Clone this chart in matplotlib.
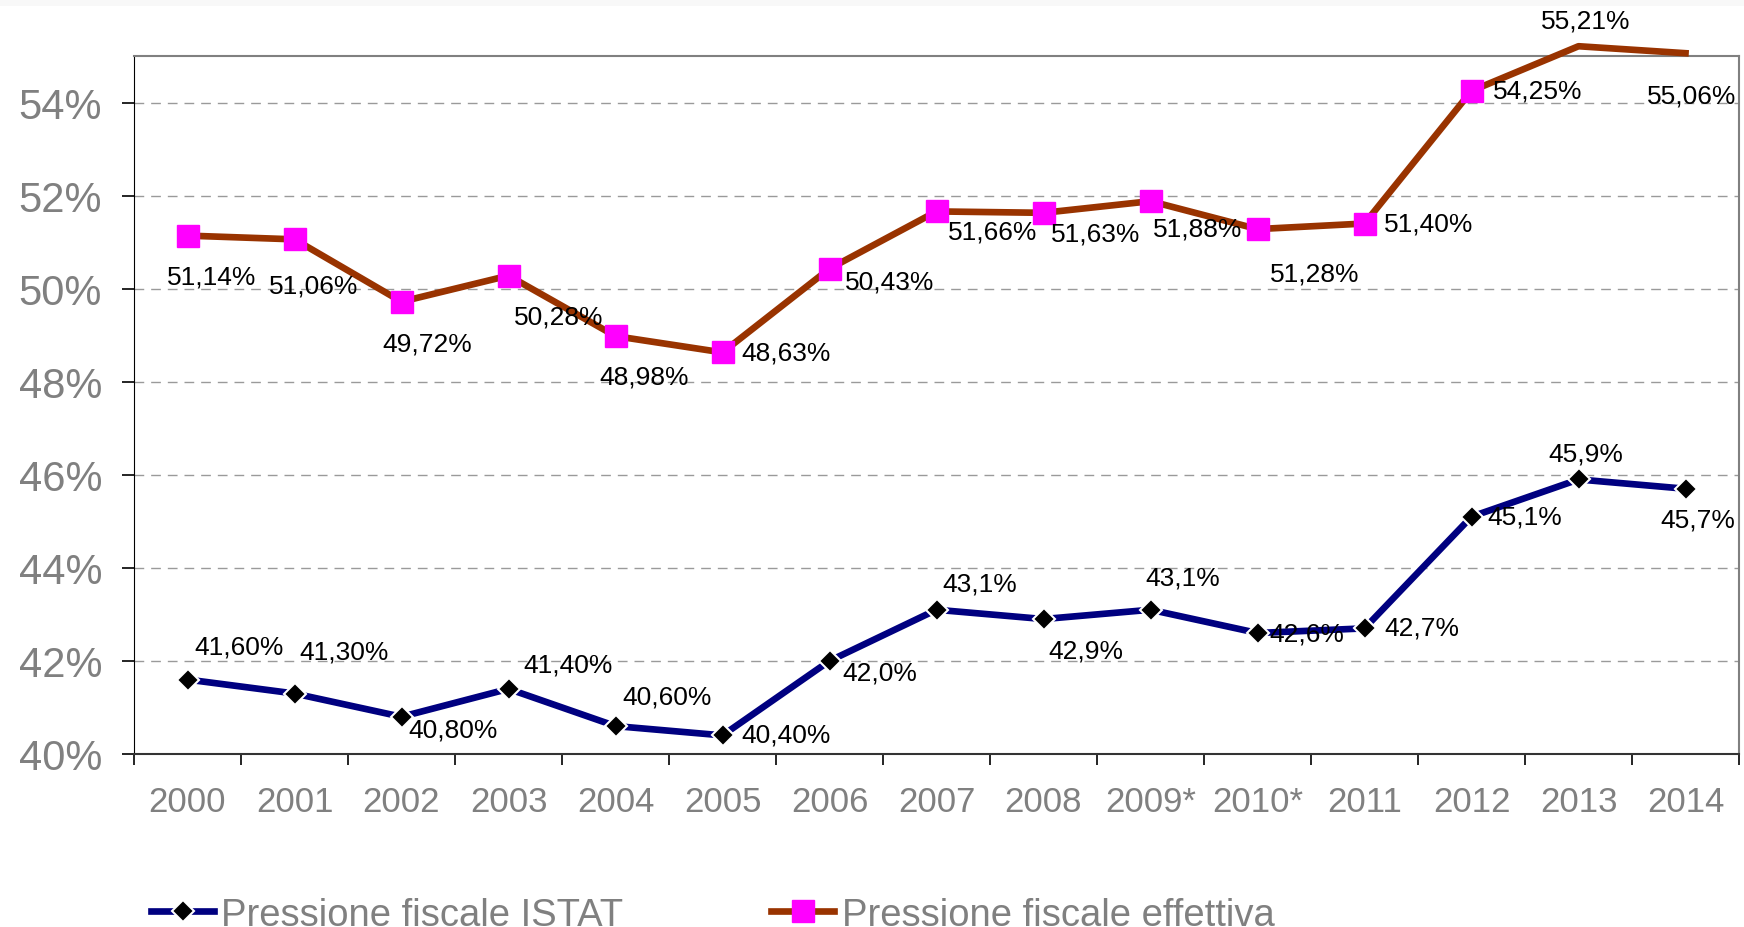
import numpy as np
import matplotlib
matplotlib.use("Agg")
import matplotlib.pyplot as plt
from matplotlib.lines import Line2D
from matplotlib.patches import Rectangle

plt.rcParams['font.family'] = ['Liberation Sans', 'DejaVu Sans']

# data
years = ["2000", "2001", "2002", "2003", "2004", "2005", "2006", "2007",
         "2008", "2009*", "2010*", "2011", "2012", "2013", "2014"]
istat = [41.6, 41.3, 40.8, 41.4, 40.6, 40.4, 42.0, 43.1, 42.9, 43.1, 42.6, 42.7, 45.1, 45.9, 45.7]
effettiva = [51.14, 51.06, 49.72, 50.28, 48.98, 48.63, 50.43, 51.66, 51.63, 51.88,
             51.28, 51.40, 54.25, 55.21, 55.06]
istat_labels = ["41,60%", "41,30%", "40,80%", "41,40%", "40,60%", "40,40%", "42,0%", "43,1%",
                "42,9%", "43,1%", "42,6%", "42,7%", "45,1%", "45,9%", "45,7%"]
eff_labels = ["51,14%", "51,06%", "49,72%", "50,28%", "48,98%", "48,63%", "50,43%", "51,66%",
              "51,63%", "51,88%", "51,28%", "51,40%", "54,25%", "55,21%", "55,06%"]
series_names = ["Pressione fiscale ISTAT", "Pressione fiscale effettiva"]

# label offsets (pixels) from each point
istat_off = [(52, 33), (50, 42), (52, -13), (60, 24), (52, 30), (64, 1), (50, -12), (43, 26),
             (42, -31), (32, 32), (49, 0), (57, 1), (53, 0), (7, 26), (12, -31)]
eff_off = [(24, -41), (19, -46), (26, -42), (50, -41), (29, -40), (64, 0), (60, -13), (56, -20),
           (52, -21), (47, -27), (57, -44), (64, 0), (66, 0), (7, 26), (6, -42)]

ymin, ymax = 40, 55
x = np.arange(len(years))
W, H = 1744, 928

fig = plt.figure(figsize=(17.44, 9.28), dpi=100)
# faint grey strip along the top edge
fig.add_artist(Rectangle((0, 1 - 7 / H), 1, 7 / H, transform=fig.transFigure,
                         color="#f8f8f8", lw=0))
ax = fig.add_axes([134 / W, 1 - 755 / H, (1739 - 134) / W, (755 - 57) / H])

# ISTAT series
ax.plot(x, istat, color="#000080", lw=4.8, marker="D", ms=11, mfc="black",
        mec="white", mew=1.5, clip_on=False, zorder=3)

# effective series: line can go past the top, markers only inside
eff = np.array(effettiva)
ax.plot(x, eff, color="#993300", lw=4.8, clip_on=False, zorder=3)
inside = eff <= ymax
ax.plot(x[inside], eff[inside], ls="none", marker="s", ms=16, mfc="#FF00FF",
        mec="#FF00FF", zorder=4)

for i in range(len(x)):
    ax.annotate(istat_labels[i], (x[i], istat[i]), xytext=istat_off[i],
                textcoords="offset pixels", ha="center", va="center",
                fontsize=19, annotation_clip=False, zorder=5)
    ax.annotate(eff_labels[i], (x[i], effettiva[i]), xytext=eff_off[i],
                textcoords="offset pixels", ha="center", va="center",
                fontsize=19, annotation_clip=False, zorder=5)

ax.set_xlim(-0.5, len(years) - 0.5)
ax.set_ylim(ymin, ymax)
ax.set_yticks(range(40, 55, 2))
ax.set_yticklabels([f"{v}%" for v in range(40, 55, 2)])
ax.set_xticks(x)
ax.set_xticklabels(years)
ax.set_xticks(np.arange(-0.5, len(years)), minor=True)

ax.tick_params(axis="y", labelsize=30, labelcolor="#808080", length=9, width=1.2,
               direction="out", pad=14)
ax.tick_params(axis="x", which="major", labelsize=25, labelcolor="#808080", length=0, pad=22)
ax.tick_params(axis="x", which="minor", length=8, width=1.2, direction="out")

for v in range(42, 55, 2):
    ax.axhline(v, color="#9a9a9a", lw=1, ls=(0, (7, 5)), zorder=1)

ax.spines["left"].set_color("black")
ax.spines["bottom"].set_color("#333333")
ax.spines["bottom"].set_linewidth(1.5)
ax.spines["top"].set_color("#808080")
ax.spines["right"].set_color("#808080")
ax.spines["top"].set_linewidth(1.5)
ax.spines["right"].set_linewidth(1.5)

# legend drawn by hand at the bottom, partly cut off like the original
ly = 1 - 912 / H
fig.add_artist(Line2D([151 / W, 214 / W], [ly, ly], transform=fig.transFigure,
                      color="#000080", lw=4.8))
fig.add_artist(Line2D([182.5 / W], [ly], transform=fig.transFigure, marker="D", ms=11,
                      mfc="black", mec="white", mew=1.5))
fig.add_artist(Line2D([771 / W, 834 / W], [ly, ly], transform=fig.transFigure,
                      color="#993300", lw=4.8))
fig.add_artist(Line2D([802.5 / W], [ly], transform=fig.transFigure, marker="s", ms=16,
                      mfc="#FF00FF", mec="#FF00FF"))
fig.text(221 / W, 1 - 926 / H, series_names[0], fontsize=27.5, color="#808080", va="baseline")
fig.text(842 / W, 1 - 926 / H, series_names[1], fontsize=27.5, color="#808080", va="baseline")

fig.savefig("out.png", dpi=100)
